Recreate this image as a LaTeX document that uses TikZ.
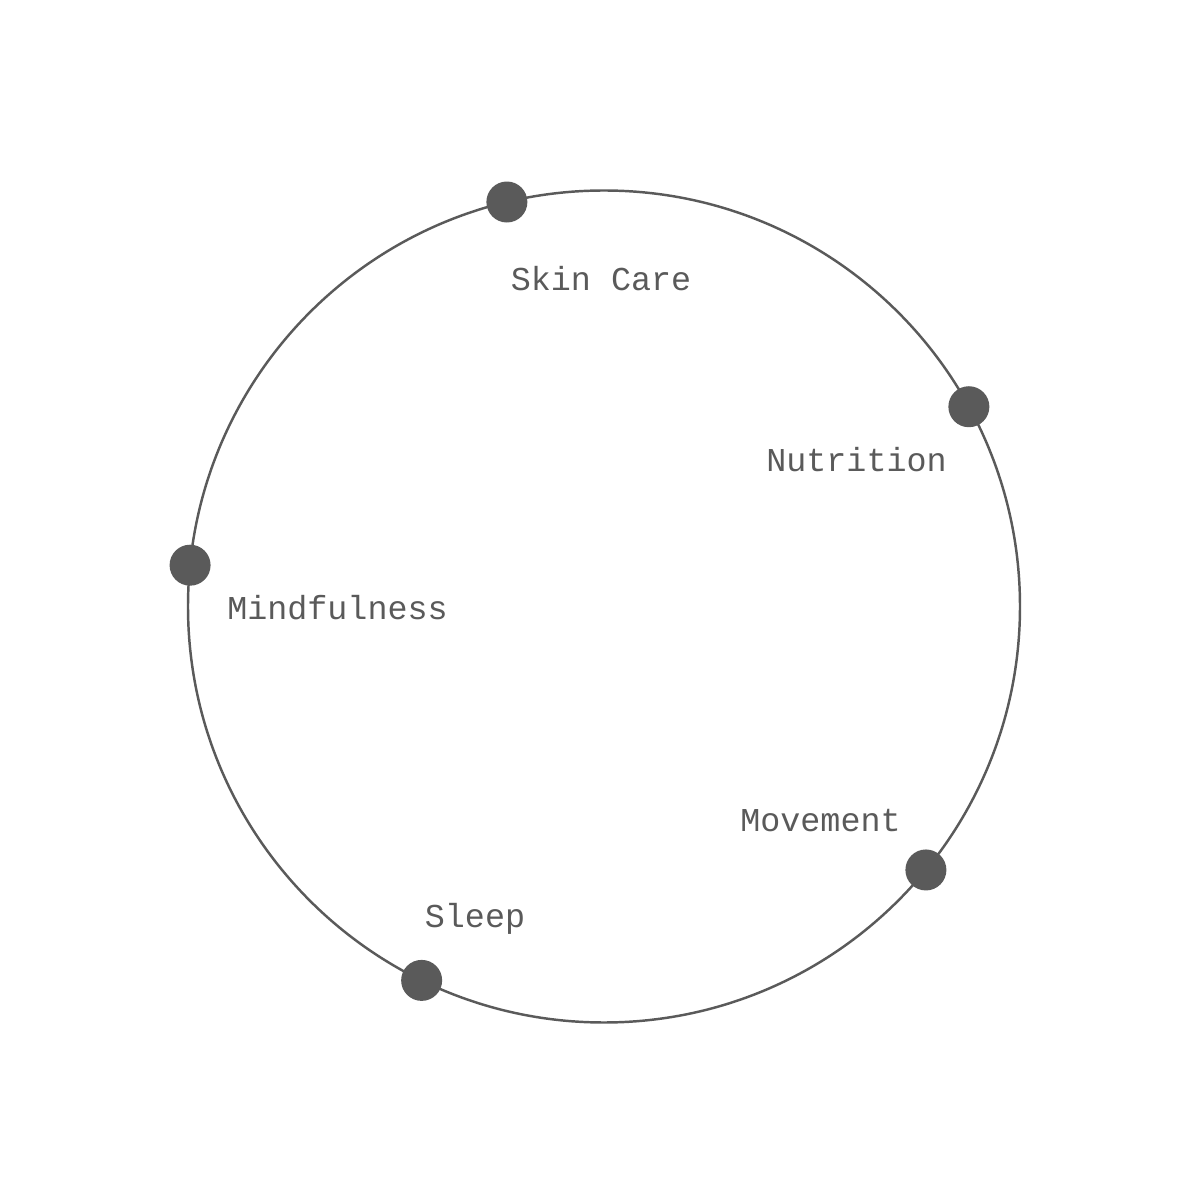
\documentclass[tikz,border=0pt]{standalone}
\usepackage{fontspec}
\setmonofont{Liberation Mono}
\usetikzlibrary{calc, positioning}
\definecolor{wheelgray}{HTML}{5A5A5A}

\begin{document}
\begin{tikzpicture}[thick,
    every node/.style={transform shape},
    dot/.style={circle,fill=wheelgray,inner sep=0pt,minimum size=4.1mm},
    wheeltext/.style={anchor=base,text=wheelgray,font=\ttfamily\fontsize{9.5}{11}\selectfont}]
    \useasboundingbox (0,0) rectangle (12,12);
    \coordinate (centre) at (6.04,5.935);
    \draw[draw=wheelgray,line width=0.7pt] (centre) circle (4.16);
    % dots on the wheel
    \node[dot] (skin) at ($(centre)+(103.5:4.16)$) {};
    \node[dot] (nutr) at ($(centre)+(28.7:4.16)$) {};
    \node[dot] (mind) at ($(centre)+(174.3:4.16)$) {};
    \node[dot] (move) at ($(centre)+(-39.3:4.16)$) {};
    \node[dot] (sleep) at ($(centre)+(-116:4.16)$) {};
    % labels
    \node[wheeltext] (skinlabel) at (6.01,9.09) {Skin Care};
    \node[wheeltext] (nutrlabel) at (8.565,7.28) {Nutrition};
    \node[wheeltext] (mindlabel) at (3.375,5.80) {Mindfulness};
    \node[wheeltext] (movelabel) at (8.205,3.68) {Movement};
    \node[wheeltext] (sleeplabel) at (4.75,2.72) {Sleep};
\end{tikzpicture}
\end{document}
